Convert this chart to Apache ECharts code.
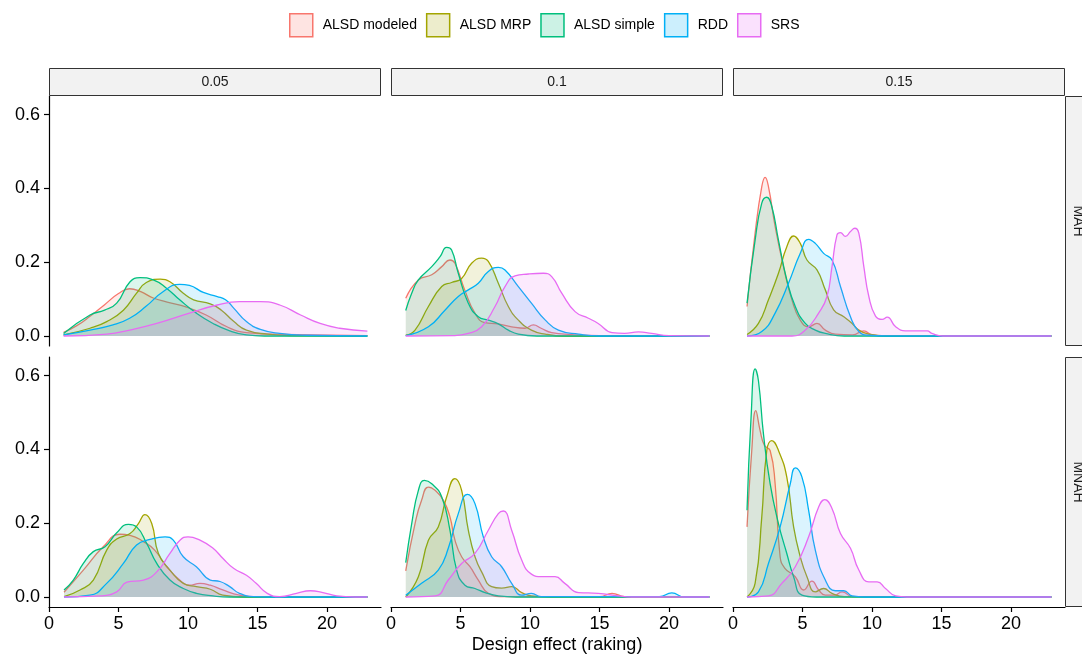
<!DOCTYPE html>
<html><head><meta charset="utf-8">
<script src="https://cdn.jsdelivr.net/npm/echarts@6/dist/echarts.min.js"></script>
<style>html,body{margin:0;padding:0;background:#fff}#c{width:1082px;height:655px}</style>
</head><body><div id="c"></div>
<script>
// ---------- data ----------
const categories = ['ALSD modeled', 'ALSD MRP', 'ALSD simple', 'RDD', 'SRS'];
const colLabels = ['0.05', '0.1', '0.15'];
const rowLabels = ['MAH', 'MNAH'];
const xTicks = [0, 5, 10, 15, 20];
const yTicks = [0, 0.2, 0.4, 0.6];
const xTitle = 'Design effect (raking)';

// MAH, 0.05
const MAH_005_modeled = [[1.05,0.01],[2,0.028],[3,0.055],[4,0.085],[5,0.115],[5.8,0.128],[6.6,0.12],[7.5,0.103],[8.5,0.092],[9.9,0.078],[11.3,0.057],[12.8,0.025],[14.2,0.009],[16,0.005],[19,0.003],[22.9,0.001]];
const MAH_005_MRP = [[1.05,0.003],[2.95,0.021],[4.15,0.039],[5.35,0.07],[6.3,0.116],[7.0,0.145],[8.0,0.154],[8.7,0.147],[9.66,0.116],[10.4,0.098],[11.6,0.087],[12.4,0.07],[13.3,0.039],[14.2,0.016],[15.7,0.005],[17.5,0.001],[22.9,0]];
const MAH_005_simple = [[1.05,0.007],[2.95,0.057],[4.0,0.07],[4.87,0.089],[5.83,0.147],[6.55,0.158],[7.5,0.152],[8.47,0.129],[9.4,0.098],[10.6,0.062],[11.8,0.034],[13.0,0.014],[14.2,0.003],[15.5,0],[22.9,0]];
const MAH_005_RDD = [[1.05,0.003],[2.95,0.016],[4.6,0.03],[5.8,0.048],[7.0,0.081],[8.2,0.12],[9.4,0.14],[10.1,0.137],[11.1,0.118],[12.1,0.107],[12.7,0.098],[13.3,0.075],[14.2,0.039],[15.2,0.018],[16.6,0.007],[18.5,0.002],[22.9,0]];
const MAH_005_SRS = [[1.05,0],[4.15,0.005],[5.8,0.016],[7.75,0.034],[10.1,0.062],[12.1,0.084],[13.7,0.093],[15.2,0.093],[16.6,0.084],[18.1,0.057],[19.5,0.034],[20.9,0.021],[22.9,0.013]];

// MAH, 0.1
const MAH_010_modeled = [[1.06,0.102],[1.97,0.152],[2.93,0.166],[3.65,0.188],[4.24,0.206],[4.6,0.197],[5.3,0.125],[6.04,0.062],[6.76,0.036],[7.7,0.033],[8.68,0.025],[9.64,0.021],[10.24,0.03],[10.8,0.021],[11.56,0.009],[13,0.004],[15,0.001],[22.9,0]];
const MAH_010_MRP = [[1.06,0.002],[1.73,0.016],[2.69,0.08],[3.65,0.134],[4.36,0.145],[5.08,0.156],[5.8,0.197],[6.52,0.211],[7.0,0.202],[7.72,0.143],[8.44,0.08],[9.16,0.043],[10.1,0.016],[11.1,0.005],[12.5,0],[22.9,0]];
const MAH_010_simple = [[1.06,0.069],[1.49,0.116],[1.97,0.152],[2.93,0.188],[3.53,0.215],[4.0,0.24],[4.36,0.233],[4.84,0.17],[5.56,0.089],[6.28,0.052],[7.0,0.043],[7.72,0.033],[8.44,0.016],[9.16,0.005],[10.5,0],[22.9,0]];
const MAH_010_RDD = [[1.06,0.001],[2.69,0.025],[3.88,0.07],[4.84,0.107],[5.56,0.125],[6.28,0.143],[7.0,0.175],[7.72,0.186],[8.2,0.179],[9.16,0.134],[10.1,0.089],[11.1,0.043],[12.04,0.016],[13.5,0.005],[15,0],[22.9,0]];
const MAH_010_SRS = [[1.06,0],[4.5,0.001],[5.56,0.007],[6.52,0.025],[7.48,0.08],[8.2,0.134],[8.92,0.163],[9.88,0.168],[10.96,0.17],[11.56,0.161],[12.28,0.116],[13.24,0.066],[14.2,0.048],[14.9,0.034],[15.9,0.009],[16.8,0.007],[17.8,0.011],[18.75,0.007],[20,0.001],[22.9,0]];

// MAH, 0.15
const MAH_015_modeled = [[1.01,0.08],[1.59,0.279],[2.07,0.405],[2.31,0.43],[2.55,0.405],[3.03,0.297],[3.63,0.188],[4.24,0.098],[4.84,0.043],[5.44,0.025],[6.04,0.034],[6.64,0.016],[7.36,0.005],[8.6,0.003],[9.41,0.014],[10.0,0.003],[11,0],[22.9,0]];
const MAH_015_MRP = [[1.01,0.004],[1.83,0.034],[2.55,0.098],[3.27,0.17],[3.87,0.242],[4.36,0.271],[4.84,0.251],[5.32,0.206],[6.04,0.179],[6.64,0.125],[7.24,0.071],[7.97,0.052],[8.57,0.034],[9.05,0.016],[9.77,0.005],[11,0],[22.9,0]];
const MAH_015_simple = [[1.01,0.089],[1.59,0.26],[2.07,0.36],[2.43,0.376],[2.79,0.351],[3.27,0.26],[3.87,0.152],[4.48,0.08],[5.2,0.034],[5.92,0.016],[6.64,0.007],[8,0],[22.9,0]];
const MAH_015_RDD = [[1.01,0],[2.07,0.012],[3.03,0.062],[3.99,0.143],[4.84,0.224],[5.44,0.262],[5.92,0.251],[6.52,0.224],[7.12,0.206],[7.73,0.134],[8.45,0.052],[9.05,0.012],[9.77,0.002],[11,0],[22.9,0]];
const MAH_015_SRS = [[1.01,0],[4.24,0],[5.2,0.016],[6.16,0.062],[6.76,0.107],[7.12,0.188],[7.48,0.274],[7.73,0.28],[8.09,0.27],[8.45,0.283],[8.76,0.292],[9.05,0.279],[9.41,0.188],[9.77,0.107],[10.25,0.054],[10.73,0.045],[11.09,0.051],[11.7,0.025],[12.4,0.014],[13.1,0.014],[13.98,0.014],[14.3,0.007],[15.1,0],[22.9,0]];

// MNAH, 0.05
const MNAH_005_modeled = [[1.08,0.013],[2.47,0.073],[3.9,0.136],[5.1,0.17],[5.83,0.167],[6.8,0.15],[7.6,0.127],[8.47,0.082],[9.4,0.046],[10.1,0.032],[10.86,0.037],[11.6,0.032],[12.5,0.019],[13.7,0.005],[15,0],[22.9,0]];
const MNAH_005_MRP = [[1.08,0.001],[2.23,0.019],[3.19,0.046],[4.15,0.127],[4.87,0.157],[5.83,0.172],[6.43,0.199],[6.9,0.223],[7.39,0.199],[7.87,0.118],[8.7,0.073],[9.66,0.037],[10.6,0.028],[11.6,0.021],[12.5,0.005],[14,0],[22.9,0]];
const MNAH_005_simple = [[1.08,0.019],[1.75,0.046],[2.47,0.091],[3.19,0.123],[4.03,0.136],[4.87,0.174],[5.71,0.197],[6.3,0.19],[7.03,0.145],[7.75,0.091],[8.7,0.046],[9.66,0.023],[10.6,0.01],[11.8,0.003],[13,0],[22.9,0]];
const MNAH_005_RDD = [[1.08,0],[2.95,0.005],[4.15,0.037],[5.35,0.091],[6.3,0.141],[7.27,0.156],[8.35,0.163],[8.94,0.154],[9.66,0.109],[10.6,0.082],[11.6,0.046],[12.3,0.042],[13.0,0.028],[13.7,0.01],[14.7,0.001],[16,0],[22.9,0]];
const MNAH_005_SRS = [[1.08,0],[3.67,0.003],[4.87,0.014],[5.6,0.04],[6.8,0.046],[7.75,0.068],[8.7,0.118],[9.42,0.154],[10.0,0.163],[10.86,0.154],[11.8,0.132],[12.5,0.105],[13.3,0.077],[14.2,0.059],[14.9,0.037],[15.7,0.01],[16.6,0.001],[17.8,0.01],[18.8,0.017],[19.7,0.012],[20.7,0.003],[22,0],[22.9,0]];

// MNAH, 0.1
const MNAH_010_modeled = [[1.06,0.071],[1.73,0.199],[2.2,0.262],[2.69,0.298],[3.17,0.289],[3.77,0.262],[4.24,0.217],[4.6,0.154],[5.08,0.109],[5.68,0.082],[6.28,0.046],[7.0,0.01],[8,0.001],[15,0.001],[15.9,0.01],[16.8,0.001],[22.9,0]];
const MNAH_010_MRP = [[1.06,0],[1.97,0.055],[2.69,0.154],[3.4,0.19],[4.0,0.271],[4.6,0.321],[5.08,0.289],[5.56,0.181],[6.04,0.109],[6.52,0.068],[7.24,0.028],[7.96,0.024],[8.68,0.028],[9.4,0.012],[10.1,0.003],[11.5,0],[22.9,0]];
const MNAH_010_simple = [[1.06,0.093],[1.49,0.199],[1.97,0.289],[2.4,0.316],[2.93,0.307],[3.65,0.271],[4.24,0.181],[4.72,0.073],[5.32,0.032],[6.04,0.023],[6.76,0.012],[7.72,0.003],[9,0],[22.9,0]];
const MNAH_010_RDD = [[1.06,0.005],[2.2,0.037],[3.4,0.073],[4.12,0.132],[4.84,0.226],[5.5,0.278],[6.04,0.253],[6.64,0.163],[7.24,0.109],[7.96,0.082],[8.68,0.037],[9.4,0.005],[10.1,0.01],[10.8,0.001],[19.3,0.001],[20.2,0.011],[21.1,0],[22.9,0]];
const MNAH_010_SRS = [[1.06,0],[3.17,0.003],[4.12,0.046],[5.08,0.091],[6.04,0.118],[7.0,0.181],[7.72,0.226],[8.08,0.233],[8.68,0.181],[9.4,0.1],[10.1,0.062],[10.84,0.055],[11.8,0.055],[12.5,0.037],[13.5,0.012],[14.9,0.01],[16.35,0.003],[17.3,0],[22.9,0]];

// MNAH, 0.15
const MNAH_015_modeled = [[1.01,0.19],[1.35,0.397],[1.64,0.505],[1.95,0.451],[2.26,0.411],[2.67,0.397],[3.03,0.307],[3.39,0.109],[3.75,0.077],[4.48,0.055],[5.08,0.019],[5.68,0.043],[6.16,0.019],[6.64,0.005],[7.3,0.005],[7.85,0.014],[8.6,0.001],[22.9,0]];
const MNAH_015_MRP = [[1.01,0],[1.59,0.037],[2.07,0.217],[2.43,0.397],[2.79,0.424],[3.27,0.397],[3.87,0.325],[4.36,0.19],[4.84,0.109],[5.32,0.055],[5.92,0.014],[6.52,0.023],[7.12,0.01],[8,0.001],[22.9,0]];
const MNAH_015_simple = [[1.01,0.235],[1.3,0.487],[1.59,0.618],[1.83,0.586],[2.19,0.442],[2.67,0.307],[3.27,0.199],[3.87,0.118],[4.36,0.055],[4.96,0.005],[6,0],[22.9,0]];
const MNAH_015_RDD = [[1.01,0],[1.83,0.014],[2.55,0.091],[3.39,0.19],[4.12,0.307],[4.48,0.35],[4.96,0.325],[5.44,0.235],[5.92,0.127],[6.64,0.046],[7.36,0.017],[7.97,0.017],[8.57,0.003],[9.5,0],[22.9,0]];
const MNAH_015_SRS = [[1.01,0],[2.55,0.003],[3.51,0.037],[4.48,0.082],[5.44,0.163],[6.16,0.244],[6.6,0.264],[7.12,0.24],[7.73,0.172],[8.45,0.132],[9.05,0.073],[9.77,0.041],[10.37,0.041],[10.97,0.023],[11.7,0.003],[12.5,0],[22.9,0]];

const panelData = [
  [
    [MAH_005_modeled, MAH_005_MRP, MAH_005_simple, MAH_005_RDD, MAH_005_SRS],
    [MAH_010_modeled, MAH_010_MRP, MAH_010_simple, MAH_010_RDD, MAH_010_SRS],
    [MAH_015_modeled, MAH_015_MRP, MAH_015_simple, MAH_015_RDD, MAH_015_SRS]
  ],
  [
    [MNAH_005_modeled, MNAH_005_MRP, MNAH_005_simple, MNAH_005_RDD, MNAH_005_SRS],
    [MNAH_010_modeled, MNAH_010_MRP, MNAH_010_simple, MNAH_010_RDD, MNAH_010_SRS],
    [MNAH_015_modeled, MNAH_015_MRP, MNAH_015_simple, MNAH_015_RDD, MNAH_015_SRS]
  ]
];

// ---------- styling / layout ----------
const colors = ['#F8766D', '#A3A500', '#00BF7D', '#00B0F6', '#E76BF3'];
const fillAlpha = 0.2;
const FONT = '"Liberation Sans", Arial, Helvetica, sans-serif';
const colLeft = [49, 391, 733];
const colW = 332;
const rowTop = [96, 357];
const rowH = 250;
const X_MIN = 0, X_MAX = 23.88;
const Y_MIN = -0.0271, Y_MAX = 0.6504;

function hexA(hex, a) {
  const n = parseInt(hex.slice(1), 16);
  return `rgba(${(n >> 16) & 255},${(n >> 8) & 255},${n & 255},${a})`;
}

const grids = [], xAxes = [], yAxes = [], series = [], graphics = [];
rowLabels.forEach((rl, r) => {
  colLabels.forEach((cl, c) => {
    const idx = r * 3 + c;
    grids.push({ left: colLeft[c], top: rowTop[r], width: colW, height: rowH, containLabel: false });
    const showX = r === 1, showY = c === 0;
    xAxes.push({
      type: 'value', gridIndex: idx, min: X_MIN, max: X_MAX,
      axisLine: { show: showX, onZero: false, lineStyle: { color: '#000', width: 1.2 } },
      axisTick: { show: showX, length: 5, customValues: xTicks, lineStyle: { color: '#000', width: 1.2 } },
      axisLabel: { show: showX, customValues: xTicks, fontSize: 18, color: '#000', fontFamily: FONT, margin: 8 },
      splitLine: { show: false }
    });
    yAxes.push({
      type: 'value', gridIndex: idx, min: Y_MIN, max: Y_MAX,
      axisLine: { show: showY, onZero: false, lineStyle: { color: '#000', width: 1.2 } },
      axisTick: { show: showY, length: 5, customValues: yTicks, lineStyle: { color: '#000', width: 1.2 } },
      axisLabel: { show: showY, customValues: yTicks, fontSize: 18, color: '#000', fontFamily: FONT, margin: 9,
        formatter: v => v.toFixed(1) },
      splitLine: { show: false }
    });
    categories.forEach((name, k) => {
      series.push({
        type: 'line', name, xAxisIndex: idx, yAxisIndex: idx,
        data: panelData[r][c][k],
        smooth: 0.5,
        symbol: 'none', showSymbol: false, silent: true,
        lineStyle: { color: colors[k], width: 1.3 },
        itemStyle: { color: colors[k] },
        areaStyle: { color: hexA(colors[k], fillAlpha), origin: 0 },
        z: 2 + k
      });
    });
  });
});

// facet strips (top)
colLabels.forEach((cl, c) => {
  graphics.push({ type: 'rect', shape: { x: colLeft[c] + 0.5, y: 68.5, width: colW - 1, height: 27 },
    style: { fill: '#f2f2f2', stroke: '#333', lineWidth: 1 }, z: 10 });
  graphics.push({ type: 'text', x: colLeft[c] + colW / 2, y: 82,
    style: { text: cl, fontSize: 14, fill: '#1a1a1a', fontFamily: FONT, align: 'center', verticalAlign: 'middle' }, z: 11 });
});
// facet strips (right)
rowLabels.forEach((rl, r) => {
  graphics.push({ type: 'rect', shape: { x: 1065.5, y: rowTop[r] + 0.5, width: 28, height: rowH - 1 },
    style: { fill: '#f2f2f2', stroke: '#333', lineWidth: 1 }, z: 10 });
  graphics.push({ type: 'text', x: 1078, y: rowTop[r] + rowH / 2, rotation: -Math.PI / 2,
    style: { text: rl, fontSize: 14, fill: '#1a1a1a', fontFamily: FONT, align: 'center', verticalAlign: 'middle' }, z: 11 });
});
// x axis title
graphics.push({ type: 'text', x: 557, y: 645,
  style: { text: xTitle, fontSize: 18, fill: '#000', fontFamily: FONT, align: 'center', verticalAlign: 'middle' } });

const chart = echarts.init(document.getElementById('c'), null, { renderer: 'canvas' });
chart.setOption({
  animation: false,
  backgroundColor: '#fff',
  legend: {
    left: 289, top: 13, padding: 0, icon: 'rect', itemWidth: 23, itemHeight: 23, itemGap: 9,
    textStyle: { fontSize: 14, color: '#000', fontFamily: FONT, padding: [0, 0, 0, 5] },
    data: categories.map((n, i) => ({ name: n, icon: 'rect',
      itemStyle: { color: hexA(colors[i], fillAlpha), borderColor: colors[i], borderWidth: 1.5 } }))
  },
  grid: grids, xAxis: xAxes, yAxis: yAxes, series, graphic: graphics
});
</script></body></html>
